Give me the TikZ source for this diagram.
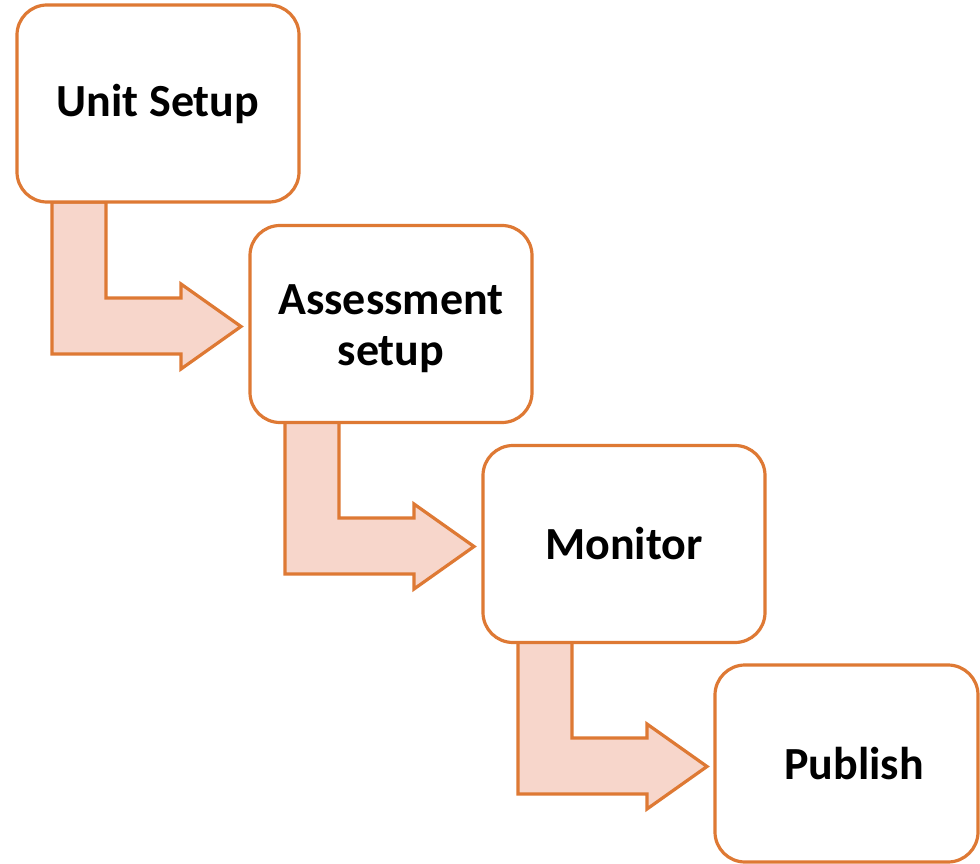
\documentclass[tikz,border=0pt]{standalone}
\usepackage{fontspec}
\setmainfont{Carlito}
\usetikzlibrary{calc}
\definecolor{edgeor}{RGB}{222,121,52}
\definecolor{fillor}{RGB}{247,214,203}
\tikzset{
  stagebox/.style={draw=edgeor, line width=3.2pt, fill=white, rounded corners=30pt,
    minimum width=282pt, minimum height=197pt, inner sep=0pt, align=center,
    font=\fontsize{46}{51}\selectfont\bfseries},
  bentarrow/.style={draw=edgeor, fill=fillor, line width=3.2pt, line join=miter}
}
\begin{document}
\begin{tikzpicture}[x=1pt,y=-1pt]
\fill[white] (0,0) rectangle (980,864);
\useasboundingbox (0,0) rectangle (980,864);
% arrows first (behind boxes)
\coordinate (o1) at (17,202);
\coordinate (o2) at (250,422);
\coordinate (o3) at (483,642);
\foreach \o in {o1,o2,o3}{
  \draw[bentarrow] ($(\o)+(35,0)$) -- ($(\o)+(35,152)$) -- ($(\o)+(164,152)$)
    -- ($(\o)+(164,167)$) -- ($(\o)+(224,124.5)$) -- ($(\o)+(164,82)$)
    -- ($(\o)+(164,96)$) -- ($(\o)+(89,96)$) -- ($(\o)+(89,0)$) -- cycle;
}
\node[stagebox] (b1) at (158,103.5) {Unit Setup};
\node[stagebox] (b2) at (391,324) {\rule{0pt}{40pt}Assessment\\setup};
\node[stagebox] (b3) at (624,544) {Monitor};
\node[stagebox, minimum width=263pt] (b4) at (846.5,763.5) {\hspace{15pt}Publish};
\end{tikzpicture}
\end{document}
